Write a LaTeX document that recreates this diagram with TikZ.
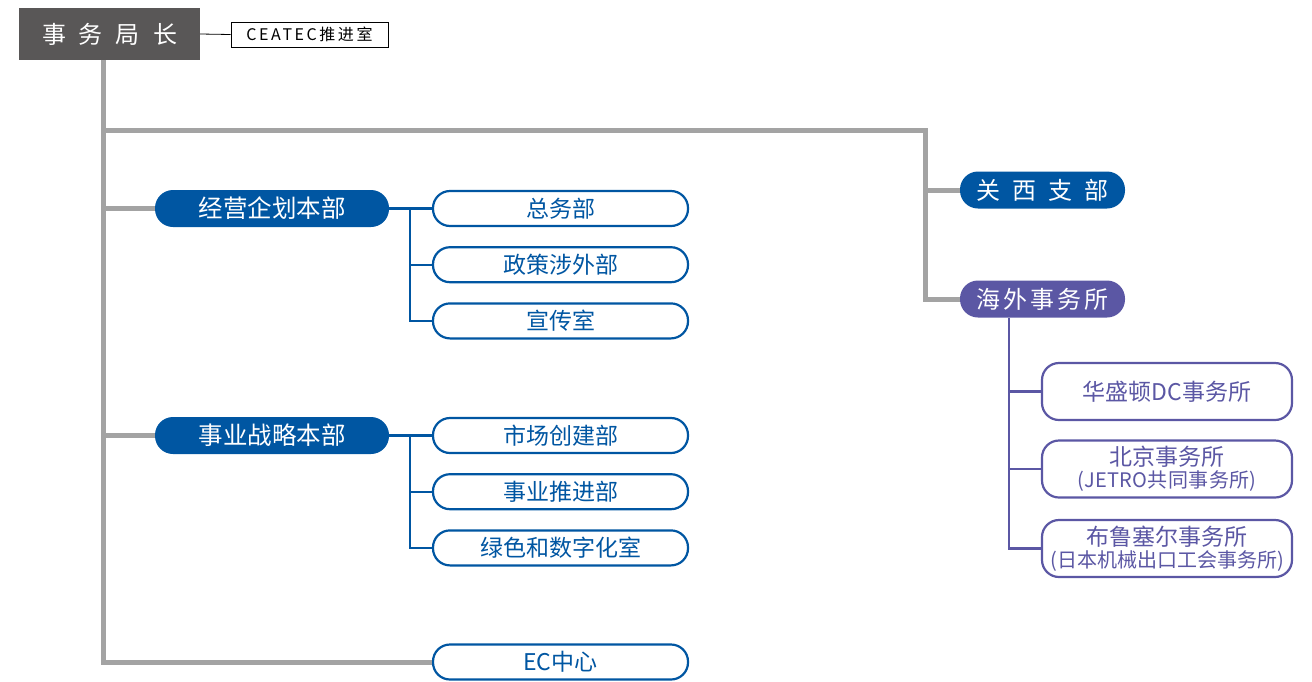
\documentclass[tikz,border=0pt]{standalone}
\usepackage{fontspec}
\setmainfont{Noto Sans CJK SC}
\usetikzlibrary{positioning}
\definecolor{headgray}{HTML}{595757}
\definecolor{trunkgray}{HTML}{A3A3A3}
\definecolor{orgblue}{HTML}{0056A2}
\definecolor{orgpurple}{HTML}{5B57A4}
\newcommand{\subline}{\fontsize{20}{22}\selectfont}

\begin{document}
\begin{tikzpicture}[x=1pt, y=-1pt,
head/.style={fill=headgray, text=white, minimum width=181pt, minimum height=52pt, inner sep=0pt, font=\fontsize{24}{26}\selectfont},
tag/.style={draw=black, line width=0.8pt, minimum width=157pt, minimum height=25pt, inner sep=0pt, font=\fontsize{16}{18}\selectfont\addfontfeature{LetterSpace=16}},
hq/.style={fill=orgblue, text=white, rounded corners=18pt, minimum width=234pt, minimum height=37pt, inner sep=0pt, font=\fontsize{24.5}{26}\selectfont},
branch/.style={hq, minimum width=165pt, font=\fontsize{24}{26}\selectfont},
dept/.style={draw=orgblue, text=orgblue, fill=white, line width=2.2pt, rounded corners=17pt, minimum width=255pt, minimum height=35pt, inner sep=0pt, font=\fontsize{23}{25}\selectfont},
office/.style={draw=orgpurple, text=orgpurple, fill=white, line width=2.2pt, rounded corners=17pt, minimum width=250pt, minimum height=57pt, inner sep=0pt, align=center, font=\fontsize{23}{22}\selectfont},
trunk/.style={draw=trunkgray, line width=5pt},
link/.style={draw=orgblue, line width=2.2pt},
plink/.style={draw=orgpurple, line width=2.2pt}
]
\useasboundingbox (0,0) rectangle (1312,681);
%Nodes
\node[head]   (dg)     at (109.5,34)    {事\hspace{13pt}务\hspace{13pt}局\hspace{13pt}长};
\node[tag]    (ceatec) at (309.5,34.5)  {CEATEC推进室};
\node[hq]     (plan)   at (272,208.5)   {经营企划本部};
\node[hq]     (strat)  at (272,435.5)   {事业战略本部};
\node[branch]                  (kansai) at (1042.5,190) {关\hspace{12pt}西\hspace{12pt}支\hspace{12pt}部};
\node[branch, fill=orgpurple]  (kaigai) at (1042.5,299) {海\hspace{3pt}外\hspace{3pt}事\hspace{3pt}务\hspace{3pt}所};
\node[dept]   (gen)    at (560.5,208.5) {总务部};
\node[dept]   (pol)    [below=19pt of gen]   {政策涉外部};
\node[dept]   (pr)     [below=19pt of pol]   {宣传室};
\node[dept]   (mkt)    at (560.5,435.5) {市场创建部};
\node[dept]   (biz)    [below=19pt of mkt]   {事业推进部};
\node[dept]   (gdx)    [below=19pt of biz]   {绿色和数字化室};
\node[dept]   (ec)     at (560.5,662)   {EC中心};
\node[office] (wash)   at (1167,391.5)  {华盛顿DC事务所};
\node[office] (bj)     at (1167,469)    {北京事务所\\{\subline\addfontfeature{LetterSpace=2} (JETRO共同事务所)}};
\node[office] (bru)    at (1167,548.5)  {布鲁塞尔事务所\\{\subline (日本机械出口工会事务所)}};
\coordinate (t0) at (103,60);
\coordinate (k)  at (925,130);
\coordinate (pk) at (1009,318);
%Lines
\draw[line width=0.8pt] (dg.east) -- (ceatec.west);
\draw[trunk] (t0) |- (ec.west);
\draw[trunk] (t0 |- plan.west) -- (plan.west);
\draw[trunk] (t0 |- strat.west) -- (strat.west);
\draw[trunk] (t0 |- k) -- (k) |- (kaigai.west);
\draw[trunk] (k |- kansai.west) -- (kansai.west);
\draw[link] (plan.east) -- (gen.west);
\draw[link] (plan.east) ++(21,0) coordinate (pj) |- (pr.west);
\draw[link] (pj) |- (pol.west);
\draw[link] (strat.east) -- (mkt.west);
\draw[link] (strat.east) ++(21,0) coordinate (sj) |- (gdx.west);
\draw[link] (sj) |- (biz.west);
\draw[plink] (pk) |- (bru.west);
\draw[plink] (pk |- wash.west) -- (wash.west);
\draw[plink] (pk |- bj.west) -- (bj.west);
\end{tikzpicture}
\end{document}
